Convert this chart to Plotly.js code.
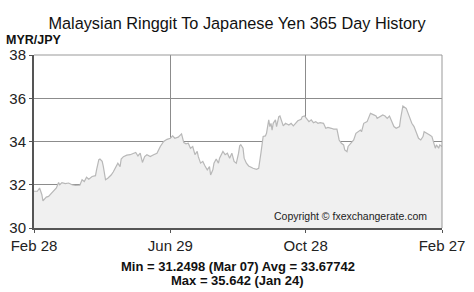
<!DOCTYPE html>
<html>
<head>
<meta charset="utf-8">
<script src="https://cdn.plot.ly/plotly-3.0.1.min.js"></script>
<style>
html,body{margin:0;padding:0;background:#fff;}
#chart{width:474px;height:292px;}
</style>
</head>
<body>
<div id="chart"></div>
<script>
// Day offsets from Feb 28 (start of the 365 day window)
const startDate = "2024-02-28";
const dayOffsets = [0,3,5,7,8,11,13,15,17,20,22,23,25,28,31,34,37,41,43,45,47,49,52,55,56,58,59,61,62,64,66,69,71,73,75,77,78,80,83,86,89,91,93,95,97,99,101,104,107,110,113,116,119,122,124,126,129,132,134,136,138,140,142,144,146,147,149,151,153,155,157,158,160,161,163,165,166,169,171,173,175,177,179,181,183,184,185,187,188,190,192,194,196,199,201,203,205,207,208,210,211,212,213,214,216,217,219,220,222,223,225,228,230,232,234,236,239,240,242,244,246,248,250,252,254,256,259,261,263,266,268,271,273,275,277,278,280,281,284,286,288,290,292,293,295,298,300,301,304,306,307,310,312,314,316,318,321,322,324,327,328,329,330,333,334,336,338,340,342,344,346,348,349,352,354,356,357,359,360,362,363,365];
const rates = [31.7,31.7,31.85,31.55,31.25,31.43,31.46,31.58,31.7,31.85,32.1,32.0,32.1,32.05,32.08,32.0,31.97,31.98,32.23,32.15,32.35,32.26,32.38,32.42,32.7,33.16,33.19,33.08,32.85,32.23,32.3,32.45,32.6,32.84,33.0,32.84,33.19,33.3,33.37,33.39,33.46,33.49,33.33,33.46,33.03,33.3,33.39,33.3,33.39,33.46,33.77,34.0,34.1,34.15,34.26,34.15,34.2,34.35,33.95,33.89,33.92,33.69,33.77,33.39,33.54,33.3,33.0,33.08,32.87,32.69,32.84,32.45,32.69,33.0,33.19,33.0,33.23,33.54,33.39,33.46,33.23,33.46,33.08,33.0,33.46,33.8,33.85,33.69,33.23,33.0,32.87,32.81,32.76,32.71,32.76,33.46,34.23,34.26,34.38,35.0,34.69,34.84,34.53,34.84,35.0,34.69,35.15,35.18,34.84,34.72,34.84,34.76,34.84,34.72,34.84,34.96,35.03,35.15,35.18,35.07,34.92,35.0,34.87,34.92,34.84,34.87,34.84,34.61,34.65,34.61,34.57,34.57,34.07,33.92,33.84,33.61,33.53,33.77,33.95,34.07,34.38,34.45,34.53,34.45,34.84,34.92,35.23,35.3,35.23,35.18,35.07,35.15,35.23,35.18,35.07,35.18,34.84,34.69,34.61,34.69,35.07,35.46,35.642,35.53,35.38,35.07,34.84,34.69,34.45,34.15,34.07,34.23,34.45,34.38,34.3,34.23,34.0,33.69,33.84,33.69,33.84,33.77];
const xTickDates = ["2024-02-28","2024-06-29","2024-10-28","2025-02-27"];
const xTickLabels = ["Feb 28","Jun 29","Oct 28","Feb 27"];
const yTicks = [30,32,34,36,38];
const titleText = "Malaysian Ringgit To Japanese Yen 365 Day History";
const unitLabel = "MYR/JPY";
const statsLine1 = "Min = 31.2498 (Mar 07) Avg = 33.67742";
const statsLine2 = "Max = 35.642 (Jan 24)";
const copyrightText = "Copyright © fxexchangerate.com";

const base = Date.UTC(2024,1,28);
const dates = dayOffsets.map(d => {
  const dt = new Date(base + d*86400000);
  return dt.toISOString().slice(0,10);
});

const FONT = "Liberation Sans, Arial, sans-serif";

const trace = {
  x: dates, y: rates, type: "scatter", mode: "lines",
  line: {color: "#b8b8b8", width: 1.2},
  fill: "tozeroy", fillcolor: "#f0f0f0",
  hoverinfo: "skip"
};

const layout = {
  width: 474, height: 292,
  margin: {l: 34, r: 32, t: 55, b: 64},
  paper_bgcolor: "#fff", plot_bgcolor: "#fff",
  showlegend: false,
  title: {text: titleText, font: {family: FONT, size: 16.3, color: "#111"}, x: 0.5, xanchor: "center", y: 1 - 23/292, yanchor: "middle"},
  xaxis: {
    type: "date", range: ["2024-02-28","2025-02-27"],
    tickvals: xTickDates, ticktext: xTickLabels,
    showgrid: true, gridcolor: "#8c8c8c", gridwidth: 1,
    showline: true, linecolor: "#555", linewidth: 2,
    ticks: "outside", ticklen: 3, tickcolor: "#555",
    tickfont: {family: FONT, size: 15, color: "#222"},
    zeroline: false, fixedrange: true
  },
  yaxis: {
    range: [30,38], tickvals: yTicks,
    showgrid: true, gridcolor: "#8c8c8c", gridwidth: 1,
    showline: true, linecolor: "#555", linewidth: 2,
    ticks: "outside", ticklen: 3, tickcolor: "#555",
    tickfont: {family: FONT, size: 15, color: "#222"},
    zeroline: false, fixedrange: true
  },
  shapes: [
    {type: "line", xref: "paper", yref: "paper", x0: 0, x1: 1, y0: 1, y1: 1, line: {color: "#999", width: 1}},
    {type: "line", xref: "paper", yref: "paper", x0: 1, x1: 1, y0: 0, y1: 1, line: {color: "#999", width: 1}}
  ],
  annotations: [
    {text: "<b>" + unitLabel + "</b>", xref: "paper", yref: "paper", x: -30/408, y: 1 + 15/173, xanchor: "left", yanchor: "middle", showarrow: false, font: {family: FONT, size: 12.5, color: "#111"}},
    {text: copyrightText, xref: "paper", yref: "paper", x: 1 - 13/408, y: 12/173, xanchor: "right", yanchor: "middle", showarrow: false, font: {family: FONT, size: 10.5, color: "#222"}},
    {text: "<b>" + statsLine1 + "</b>", xref: "paper", yref: "paper", x: (237.5-34)/408, y: -(266.5-228)/173, xanchor: "center", yanchor: "middle", showarrow: false, font: {family: FONT, size: 13, color: "#111"}},
    {text: "<b>" + statsLine2 + "</b>", xref: "paper", yref: "paper", x: (237.5-34)/408, y: -(280.5-228)/173, xanchor: "center", yanchor: "middle", showarrow: false, font: {family: FONT, size: 13, color: "#111"}}
  ]
};

Plotly.newPlot("chart", [trace], layout, {displayModeBar: false, staticPlot: true});
</script>
</body>
</html>
